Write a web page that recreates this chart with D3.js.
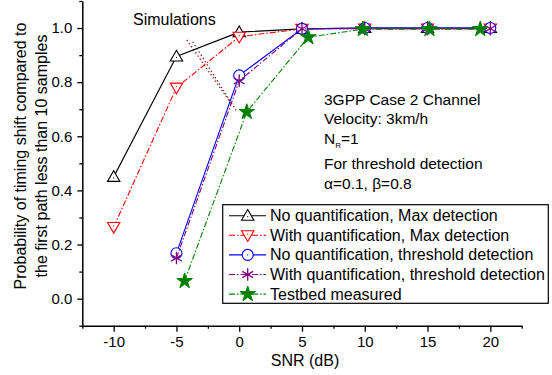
<!DOCTYPE html>
<html>
<head>
<meta charset="utf-8">
<script src="https://cdn.jsdelivr.net/npm/d3@7"></script>
<style>
  body { margin: 0; background: #fff; }
  svg { font-family: "Liberation Sans", Arial, sans-serif; }
</style>
</head>
<body>
<svg id="chart" width="552" height="375"></svg>
<script>
// Data ======================================================
var snr = [-10, -5, 0, 5, 10, 15, 20];
var noQuantMax = [0.45, 0.895, 0.985, 0.997, 1.0, 1.0, 1.0];
var withQuantMax = [0.265, 0.78, 0.968, 0.997, 0.998, 0.998, 0.998];
var snrThresh = [-5, 0, 5, 10, 15, 20];
var noQuantThresh = [0.168, 0.825, 0.997, 1.0, 1.0, 1.0];
var withQuantThresh = [0.15, 0.805, 0.997, 0.998, 0.998, 0.998];
var snrTestbed = [-4.35, 0.6, 5.5, 9.85, 15.15, 19.2];
var testbed = [0.065, 0.69, 0.966, 0.996, 0.996, 0.996];

var xTicks = [-10, -5, 0, 5, 10, 15, 20];
var yTicks = [0.0, 0.2, 0.4, 0.6, 0.8, 1.0];

var legendLabels = [
  "No quantification, Max detection",
  "With quantification, Max detection",
  "No quantification, threshold detection",
  "With quantification, threshold detection",
  "Testbed measured"
];

var noteLines = ["3GPP Case 2 Channel", "Velocity: 3km/h", "N_R=1", "For threshold detection", "\u03b1=0.1, \u03b2=0.8"];

// Setup =====================================================
var svg = d3.select("#chart");
var x = d3.scaleLinear().domain([-12.5, 22.5]).range([82.3, 521.7]);
var y = d3.scaleLinear().domain([-0.1, 1.1]).range([325.7, 1]);

// axes
var xAxis = svg.append("g").attr("transform", "translate(0," + y(-0.1) + ")");
xAxis.call(d3.axisBottom(x).tickValues(xTicks).tickSize(6).tickSizeOuter(0).tickPadding(5)
    .tickFormat(function(d) { return String(d); }));
xAxis.append("g").call(d3.axisBottom(x).tickValues(d3.range(-12.5, 23, 2.5).filter(function(d) { return d % 5 != 0; }))
    .tickSize(3).tickFormat(""))
  .select(".domain").remove();

var yAxis = svg.append("g").attr("transform", "translate(" + x(-12.5) + ",0)");
yAxis.call(d3.axisLeft(y).tickValues(yTicks).tickSize(5).tickSizeOuter(0).tickPadding(5)
    .tickFormat(d3.format(".1f")));
yAxis.append("g").call(d3.axisLeft(y).tickValues([-0.1, 0.1, 0.3, 0.5, 0.7, 0.9, 1.1])
    .tickSize(3).tickFormat(""))
  .select(".domain").remove();

svg.selectAll(".domain").attr("stroke", "#000").attr("stroke-width", 1.5);
svg.selectAll(".tick line").attr("stroke", "#000").attr("stroke-width", 1.3);
svg.selectAll(".tick text").attr("font-size", 15).attr("fill", "#000")
   .attr("font-family", "Liberation Sans, Arial, sans-serif");

// axis titles
svg.append("text").attr("x", 305).attr("y", 366).attr("text-anchor", "middle")
   .attr("font-size", 16).text("SNR (dB)");
var yTitle = svg.append("text").attr("transform", "translate(26,156) rotate(-90)")
   .attr("text-anchor", "middle").attr("font-size", 16);
yTitle.append("tspan").attr("x", 0).attr("dy", 0).text("Probability of timing shift compared to");
yTitle.append("tspan").attr("x", 0).attr("dy", 21).text("the first path less than 10 samples");

// annotation dotted lines
var noteLinesData = [
  [[-4.17, 0.956], [-0.58, 0.716]],
  [[-3.7, 0.949], [-0.18, 0.69]]
];
noteLinesData.forEach(function(seg) {
  svg.append("line")
    .attr("x1", x(seg[0][0])).attr("y1", y(seg[0][1]))
    .attr("x2", x(seg[1][0])).attr("y2", y(seg[1][1]))
    .attr("stroke", "#8b1a1a").attr("stroke-width", 1.3).attr("stroke-dasharray", "1.3,2.5");
});

svg.append("text").attr("x", 133).attr("y", 25).attr("font-size", 16).text("Simulations");

// markers ===================================================
function triUp(s) { return "M0," + (-s * 0.62) + "L" + s * 0.62 + "," + s * 0.45 + "L" + (-s * 0.62) + "," + s * 0.45 + "Z"; }
function triDown(s) { return "M0," + (s * 0.62) + "L" + s * 0.62 + "," + (-s * 0.45) + "L" + (-s * 0.62) + "," + (-s * 0.45) + "Z"; }

function drawMarker(g, kind, cx, cy, color) {
  var m = g.append("g").attr("transform", "translate(" + cx + "," + cy + ")");
  if (kind == "up") {
    m.append("path").attr("d", triUp(10)).attr("fill", "#fff").attr("stroke", color).attr("stroke-width", 1.1);
    m.append("circle").attr("r", 0.6).attr("cy", 1).attr("fill", color);
  } else if (kind == "down") {
    m.append("path").attr("d", triDown(10)).attr("fill", "#fff").attr("stroke", color).attr("stroke-width", 1.1);
    m.append("circle").attr("r", 0.6).attr("cy", -1).attr("fill", color);
  } else if (kind == "circle") {
    m.append("circle").attr("r", 5.5).attr("fill", "#fff").attr("stroke", color).attr("stroke-width", 1.1);
    m.append("circle").attr("r", 0.6).attr("fill", color);
  } else if (kind == "asterisk") {
    m.append("path").attr("d", d3.symbol(d3.symbolAsterisk, 110)()).attr("fill", "none")
     .attr("stroke", color).attr("stroke-width", 1.3);
  } else if (kind == "star") {
    m.append("path").attr("d", d3.symbol(d3.symbolStar, 75)()).attr("fill", color).attr("stroke", color);
  }
}

var series = [
  { xs: snr, ys: noQuantMax, color: "#000000", dash: null, marker: "up" },
  { xs: snr, ys: withQuantMax, color: "#ff0000", dash: "6,2,1.5,2", marker: "down" },
  { xs: snrThresh, ys: noQuantThresh, color: "#0000ff", dash: null, marker: "circle" },
  { xs: snrThresh, ys: withQuantThresh, color: "#800080", dash: "6,2,1.5,2", marker: "asterisk" },
  { xs: snrTestbed, ys: testbed, color: "#008000", dash: "6,2,1.5,2", marker: "star" }
];

var line = d3.line().x(function(d) { return x(d[0]); }).y(function(d) { return y(d[1]); });

series.forEach(function(s) {
  var pts = s.xs.map(function(v, i) { return [v, s.ys[i]]; });
  var g = svg.append("g");
  g.append("path").datum(pts).attr("d", line).attr("fill", "none")
   .attr("stroke", s.color).attr("stroke-width", 1.1)
   .attr("stroke-dasharray", s.dash);
  pts.forEach(function(p) { drawMarker(g, s.marker, x(p[0]), y(p[1]), s.color); });
});

// notes =====================================================
var note = svg.append("g").attr("font-size", 15.5);
var noteY = [104.5, 124, 144, 168.5, 188.5];
noteLines.forEach(function(t, i) {
  var txt = note.append("text").attr("x", 324).attr("y", noteY[i]);
  if (t.indexOf("_") >= 0) {
    var parts = t.split("_");
    txt.append("tspan").text(parts[0]);
    txt.append("tspan").attr("font-size", 8).attr("dy", 4).text(parts[1].charAt(0));
    txt.append("tspan").attr("dy", -4).text(parts[1].slice(1));
  } else {
    txt.text(t);
  }
});

// legend ====================================================
var legend = svg.append("g");
legend.append("rect").attr("x", 222.7).attr("y", 204.7).attr("width", 325.6).attr("height", 98.6)
  .attr("fill", "#fff").attr("stroke", "#000").attr("stroke-width", 1.2);
series.forEach(function(s, i) {
  var ly = 215.7 + i * 19.6;
  legend.append("line").attr("x1", 229).attr("x2", 266).attr("y1", ly).attr("y2", ly)
    .attr("stroke", s.color).attr("stroke-width", 1.1).attr("stroke-dasharray", s.dash);
  drawMarker(legend, s.marker, 247.7, ly, s.color);
  legend.append("text").attr("x", 270).attr("y", ly + 5.5).attr("font-size", 16).text(legendLabels[i]);
});
</script>
</body>
</html>
